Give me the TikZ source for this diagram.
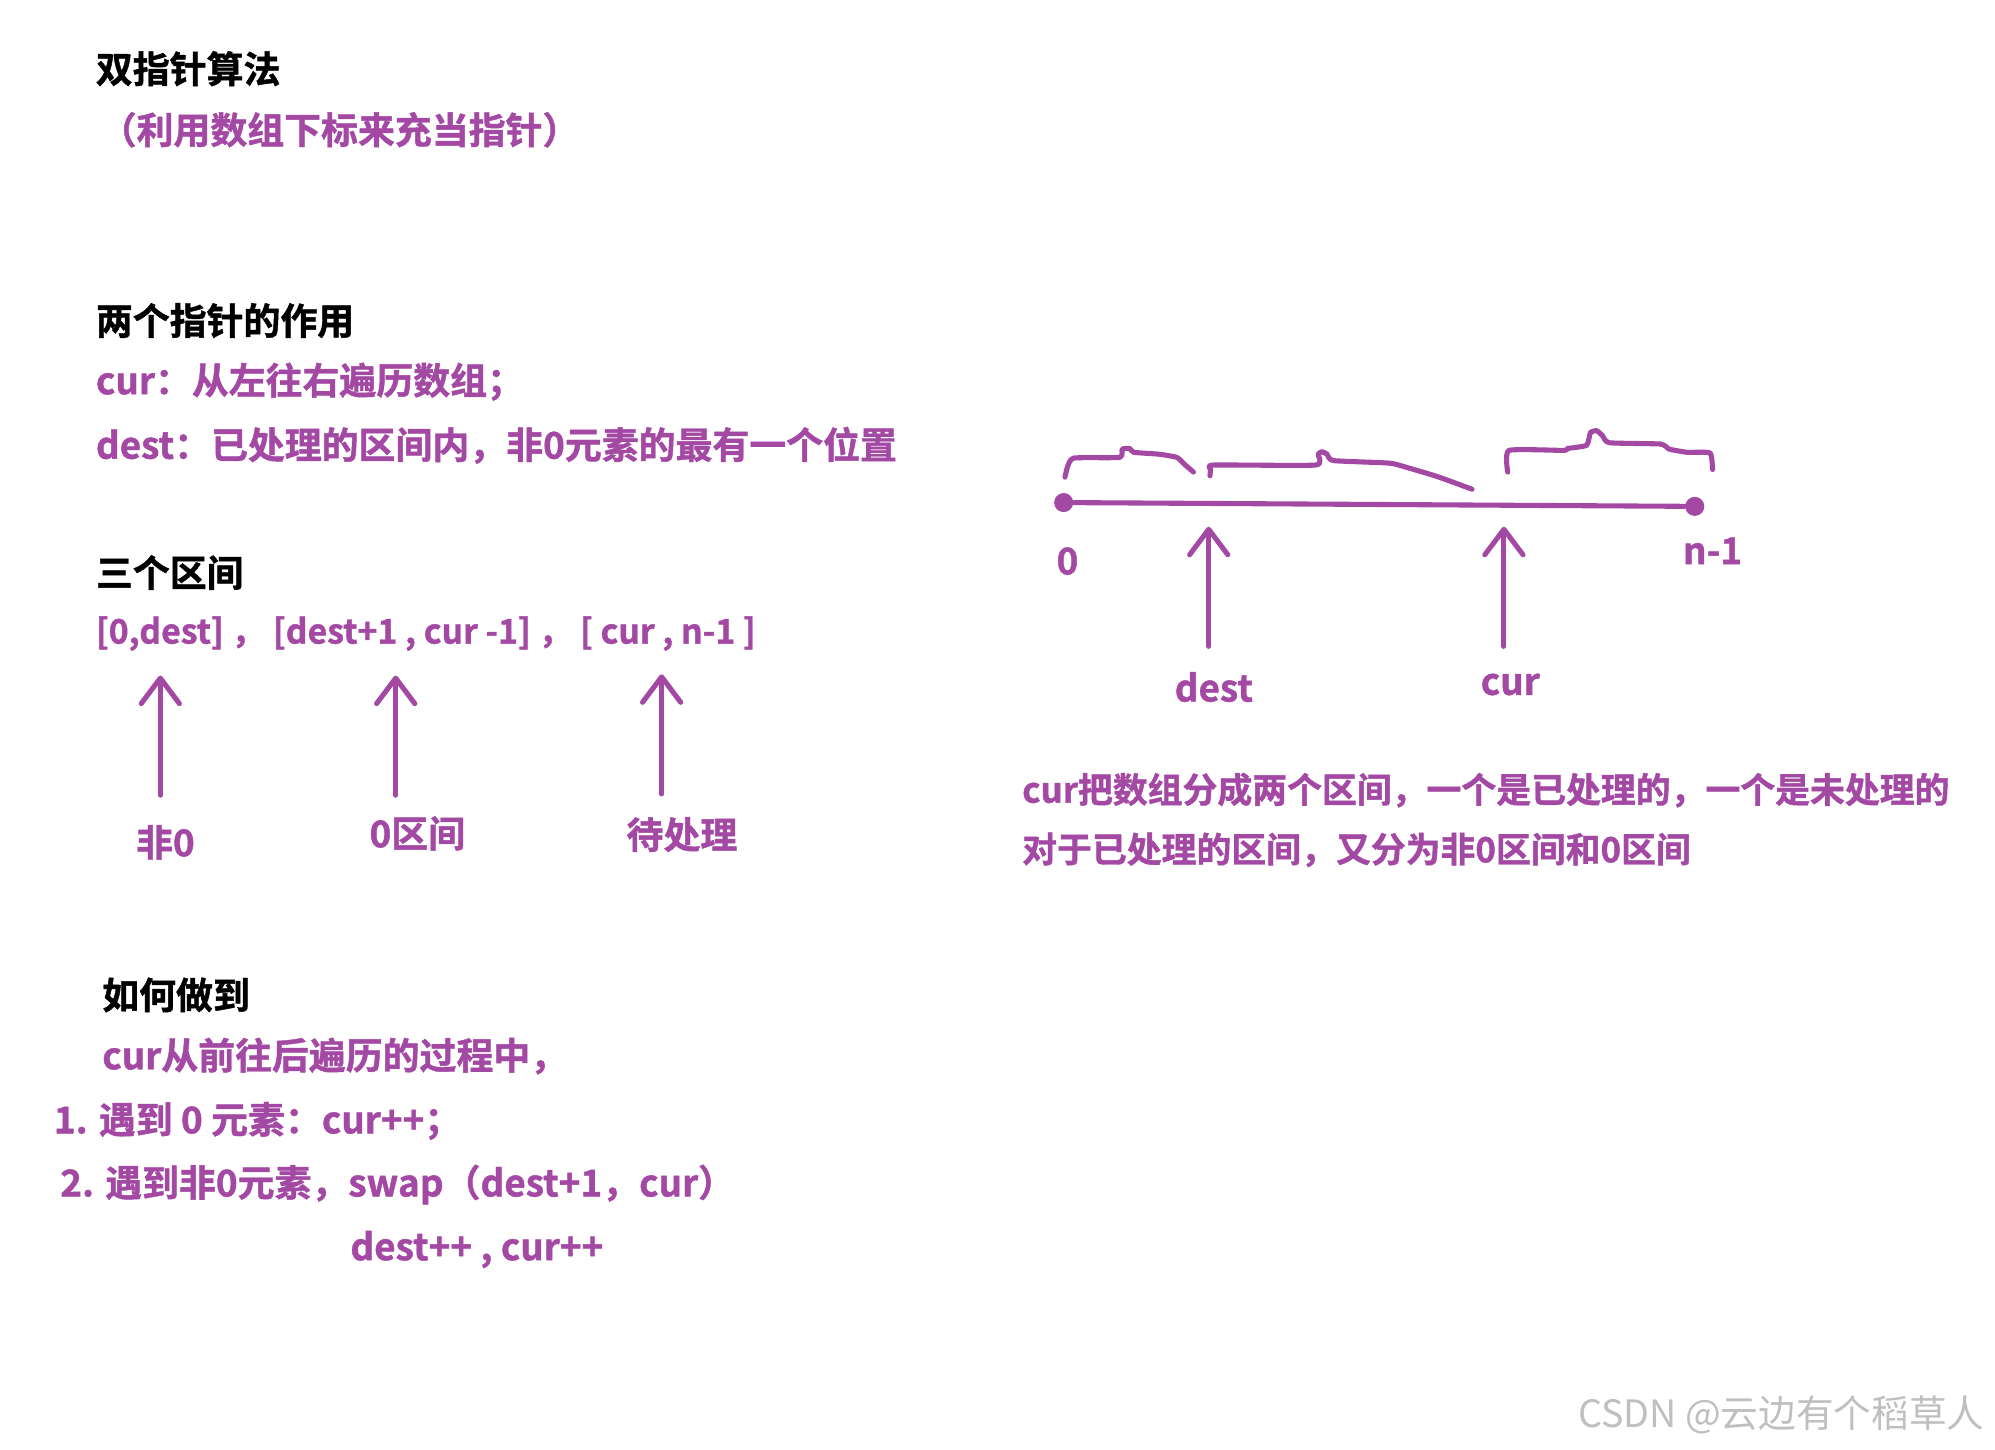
\documentclass[tikz,border=0pt]{standalone}
\usepackage{fontspec}
\usepackage{tikz}
\usetikzlibrary{arrows.meta, positioning}
\newfontfamily\cjk{Noto Sans CJK SC}[BoldFont={Noto Sans CJK SC Bold}, BoldFeatures={FakeBold=1.2}]
\definecolor{pur}{RGB}{163,73,164}

\begin{document}
\begin{tikzpicture}[
    x=0.5pt, y=-0.5pt,
    every node/.style={font=\cjk\bfseries\fontsize{14.5}{17}\selectfont, inner sep=0pt},
    head/.style={anchor=west, text=black},
    note/.style={anchor=west, text=pur},
    lab/.style={text=pur},
    arr/.style={pur, line width=2pt, line cap=round, -{Straight Barb[length=10pt, width=15pt, round]}},
    scribble/.style={pur, line width=2pt, line cap=round, line join=round},
    dot/.style={circle, fill=pur, minimum size=7.5pt, inner sep=0pt}
]
\useasboundingbox (0,0) rectangle (1568,1139);

% Title block
\node[head] (title) at (75,54) {双指针算法};
\node[note] (subtitle) at (78,102) {（利用数组下标来充当指针）};

% Role of the two pointers
\node[head] (roles) at (75,252) {两个指针的作用};
\node[note] (curdef) at (75,300) {cur：从左往右遍历数组；};
\node[note] (destdef) at (75,350) {dest：已处理的区间内，非0元素的最有一个位置};

% Three intervals
\node[head] (three) at (75,450) {三个区间};
\node[note, font=\cjk\bfseries\fontsize{13.3}{16}\selectfont] (ranges) at (75,498)
    {[0,dest] ， [dest+1 , cur -1] ， [ cur , n-1 ]};

\coordinate (a1s) at (126,625); \coordinate (a1e) at (126,531);
\coordinate (a2s) at (311,625); \coordinate (a2e) at (311,531);
\coordinate (a3s) at (520,624); \coordinate (a3e) at (520,530);
\draw[arr] (a1s) -- (a1e);
\draw[arr] (a2s) -- (a2e);
\draw[arr] (a3s) -- (a3e);

\node[lab] (nonzero) at (130,662) {非0};
\node[lab] (zerorange) at (328,655) {0区间};
\node[lab] (todo) at (536,656) {待处理};

% How it is done
\node[head] (how) at (80,782) {如何做到};
\node[note] (walk) at (80,830) {cur从前往后遍历的过程中，};
\node[note] (step1) at (42,881) {1. 遇到 0 元素：cur++；};
\node[note] (step2) at (47,931) {2. 遇到非0元素，swap（dest+1，cur）};
\node[note] (step2b) at (275,982) {dest++ , cur++};

% Number line
\node[dot] (zero) at (836,395) {};
\node[dot] (last) at (1332,398) {};
\draw[scribble] (zero) -- (last);
\node[lab] (zerolab) at (839,441) {0};
\node[lab] (lastlab) at (1346,433) {n-1};

\coordinate (ds) at (950,508); \coordinate (de) at (950,414);
\coordinate (cs) at (1182,508); \coordinate (ce) at (1182,414);
\draw[arr] (ds) -- (de);
\draw[arr] (cs) -- (ce);
\node[lab] (destlab) at (954,540) {dest};
\node[lab] (curlab) at (1187,538) {cur};

% Hand-drawn braces over the line
\draw[scribble] plot[smooth, tension=0.3] coordinates {
    (837,375) (839,367) (844,360) (880,359.5) (882,353) (888,352.5)
    (891,355.5) (911,357) (925,359.5) (931,365) (938,371)
};
\draw[scribble] plot[smooth, tension=0.3] coordinates {
    (951,374) (951.5,369) (954,365.5) (1034,365.5) (1036,357) (1039,355)
    (1043,357) (1048,362) (1092,364) (1106,367.5) (1128,374) (1142,379) (1157,384.5)
};
\draw[scribble] plot[smooth, tension=0.3] coordinates {
    (1185,371) (1186,354) (1229,354) (1232,352.5) (1247,350) (1250,340)
    (1255,338.5) (1259.5,342.5) (1265,348) (1305,349) (1312,353)
    (1326,355.5) (1344,356) (1346,369)
};

% Explanation
\node[note, font=\cjk\bfseries\fontsize{13.7}{16}\selectfont] (split) at (803,621)
    {cur把数组分成两个区间，一个是已处理的，一个是未处理的};
\node[note, font=\cjk\bfseries\fontsize{13.7}{16}\selectfont] (split2) at (803,668)
    {对于已处理的区间，又分为非0区间和0区间};

% Watermark
\node[anchor=west, text=black!25, font=\cjk\mdseries\fontsize{14.8}{17}\selectfont] (mark) at (1240,1112)
    {CSDN @云边有个稻草人};
\end{tikzpicture}
\end{document}
